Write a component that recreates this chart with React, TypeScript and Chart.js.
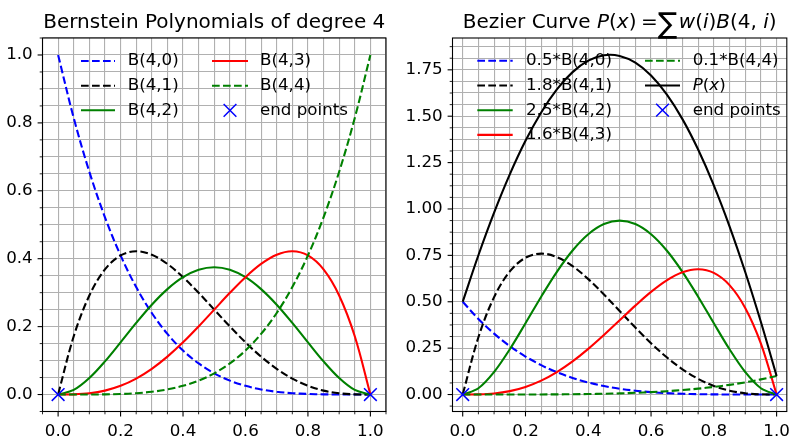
import React, { useEffect, useRef } from 'react';
import { Chart, registerables } from 'chart.js';
Chart.register(...registerables);

// ---------- data ----------
const xs = [0, 0.05, 0.1, 0.15, 0.2, 0.25, 0.3, 0.35, 0.4, 0.45, 0.5, 0.55, 0.6, 0.65, 0.7, 0.75, 0.8, 0.85, 0.9, 0.95, 1.0];

const b40 = [1, 0.8145, 0.6561, 0.522, 0.4096, 0.3164, 0.2401, 0.1785, 0.1296, 0.0915, 0.0625, 0.041, 0.0256, 0.015, 0.0081, 0.0039, 0.0016, 0.0005, 0.0001, 0, 0];
const b41 = [0, 0.1715, 0.2916, 0.3685, 0.4096, 0.4219, 0.4116, 0.3845, 0.3456, 0.2995, 0.25, 0.2005, 0.1536, 0.1115, 0.0756, 0.0469, 0.0256, 0.0115, 0.0036, 0.0005, 0];
const b42 = [0, 0.0135, 0.0486, 0.0975, 0.1536, 0.2109, 0.2646, 0.3105, 0.3456, 0.3675, 0.375, 0.3675, 0.3456, 0.3105, 0.2646, 0.2109, 0.1536, 0.0975, 0.0486, 0.0135, 0];
const b43 = [0, 0.0005, 0.0036, 0.0115, 0.0256, 0.0469, 0.0756, 0.1115, 0.1536, 0.2005, 0.25, 0.2995, 0.3456, 0.3845, 0.4116, 0.4219, 0.4096, 0.3685, 0.2916, 0.1715, 0];
const b44 = [0, 0, 0.0001, 0.0005, 0.0016, 0.0039, 0.0081, 0.015, 0.0256, 0.041, 0.0625, 0.0915, 0.1296, 0.1785, 0.2401, 0.3164, 0.4096, 0.522, 0.6561, 0.8145, 1];

const w0b = [0.5, 0.4073, 0.3281, 0.261, 0.2048, 0.1582, 0.1201, 0.0893, 0.0648, 0.0458, 0.0313, 0.0205, 0.0128, 0.0075, 0.0041, 0.002, 0.0008, 0.0003, 0.0001, 0, 0];
const w1b = [0, 0.3087, 0.5249, 0.6633, 0.7373, 0.7594, 0.7409, 0.6921, 0.6221, 0.5391, 0.45, 0.3609, 0.2765, 0.2007, 0.1361, 0.0844, 0.0461, 0.0207, 0.0065, 0.0009, 0];
const w2b = [0, 0.0338, 0.1215, 0.2438, 0.384, 0.5273, 0.6615, 0.7763, 0.864, 0.9188, 0.9375, 0.9188, 0.864, 0.7763, 0.6615, 0.5273, 0.384, 0.2438, 0.1215, 0.0338, 0];
const w3b = [0, 0.0008, 0.0058, 0.0184, 0.041, 0.075, 0.121, 0.1784, 0.2458, 0.3208, 0.4, 0.4792, 0.553, 0.6152, 0.6586, 0.675, 0.6554, 0.5896, 0.4666, 0.2744, 0];
const w4b = [0, 0, 0, 0.0001, 0.0002, 0.0004, 0.0008, 0.0015, 0.0026, 0.0041, 0.0063, 0.0092, 0.013, 0.0179, 0.024, 0.0316, 0.041, 0.0522, 0.0656, 0.0815, 0.1];
const pX = [0.5, 0.7506, 0.9803, 1.1866, 1.3673, 1.5203, 1.6443, 1.7376, 1.7993, 1.8286, 1.825, 1.7886, 1.7193, 1.6176, 1.4843, 1.3203, 1.1273, 0.9066, 0.6603, 0.3906, 0.1];

const endX = [0, 1];
const endY = [0, 0];

const xTickLabels = ['0.0', '0.2', '0.4', '0.6', '0.8', '1.0'];
const leftYTickLabels = ['0.0', '0.2', '0.4', '0.6', '0.8', '1.0'];
const rightYTickLabels = ['0.00', '0.25', '0.50', '0.75', '1.00', '1.25', '1.50', '1.75'];

const leftLabels = ['B(4,0)', 'B(4,1)', 'B(4,2)', 'B(4,3)', 'B(4,4)', 'end points'];
const rightLabels = ['0.5*B(4,0)', '1.8*B(4,1)', '2.5*B(4,2)', '1.6*B(4,3)', '0.1*B(4,4)', 'P(x)', 'end points'];

const leftTitle = 'Bernstein Polynomials of degree 4';

// ---------- styling ----------
const FONT = '"DejaVu Sans"';
const TICK_SIZE = 16.7;
const LW = 2.1;
const DASH = [7.7, 3.3];
const BLUE = '#0000ff', BLACK = '#000000', GREEN = '#008000', RED = '#ff0000';

type Seg = { t: string; it?: boolean; big?: boolean; gap?: number };

function parseLabel(s: string): Seg[] {
  if (s === 'P(x)') return [{ t: 'P', it: true }, { t: '(' }, { t: 'x', it: true }, { t: ')' }];
  return [{ t: s }];
}

const rightTitle: Seg[] = [
  { t: 'Bezier Curve ' }, { t: 'P', it: true }, { t: '(' }, { t: 'x', it: true }, { t: ')', gap: 4.5 },
  { t: '=' }, { t: '\u2211', big: true, gap: 1.5 }, { t: 'w', it: true }, { t: '(' }, { t: 'i', it: true }, { t: ')' },
  { t: 'B', it: true }, { t: '(4, ' }, { t: 'i', it: true }, { t: ')' },
];

function drawRich(ctx: CanvasRenderingContext2D, segs: Seg[], x: number, y: number, size: number, align: 'left' | 'center') {
  const fontOf = (s: Seg) => (s.big ? `${size * 1.45}px ${FONT}` : `${s.it ? 'oblique ' : ''}${size}px ${FONT}`);
  let total = 0;
  const widths = segs.map((s) => {
    ctx.font = fontOf(s);
    const w = ctx.measureText(s.t).width + (s.gap || 0);
    total += w;
    return w;
  });
  let cx = align === 'center' ? x - total / 2 : x;
  segs.forEach((s, i) => {
    ctx.font = fontOf(s);
    ctx.fillText(s.t, cx, s.big ? y + size * 0.27 : y);
    cx += widths[i];
  });
}

function makeTicks(min: number, max: number, step: number) {
  const out: { value: number }[] = [];
  const k0 = Math.ceil(min / step - 1e-9);
  const k1 = Math.floor(max / step + 1e-9);
  for (let k = k0; k <= k1; k++) out.push({ value: +(k * step).toFixed(6) });
  return out;
}

function majorLabel(value: number, step: number, labels: string[]) {
  const idx = Math.round(value / step);
  if (Math.abs(value - idx * step) < 1e-6 && idx >= 0 && idx < labels.length) return labels[idx];
  return '';
}

type LegendItem = { segs: Seg[]; ds: number; col: number; row: number };
type Spec = {
  datasets: any[];
  xMin: number; xMax: number;
  yMin: number; yMax: number; yMinor: number; yMajor: number; yLabels: string[];
  yAxisWidth: number; padRight: number;
  legend: LegendItem[];
  cols: { lx0: number; lx1: number; tx: number }[];
  rows: number[];
  title: Seg[];
};

function lineDs(arr: number[], color: string, dashed: boolean, order: number) {
  return {
    data: xs.map((x, i) => ({ x, y: arr[i] })),
    borderColor: color,
    borderWidth: LW,
    borderDash: dashed ? DASH : [],
    pointRadius: 0,
    pointHoverRadius: 0,
    fill: false,
    tension: 0.35,
    order,
  };
}

function endDs(order: number) {
  return {
    data: endX.map((x, i) => ({ x, y: endY[i] })),
    showLine: false,
    pointStyle: 'crossRot',
    pointRadius: 9,
    pointHoverRadius: 9,
    pointBorderColor: BLUE,
    pointBackgroundColor: BLUE,
    pointBorderWidth: 1.5,
    borderColor: BLUE,
    order,
  };
}

function makeDecor(spec: Spec) {
  return {
    id: 'decor',
    afterDraw(chart: any) {
      const { ctx, chartArea: ca, scales } = chart;
      ctx.save();
      ctx.fillStyle = '#000';
      ctx.strokeStyle = '#000';
      const xs_ = scales.x, ys_ = scales.y;
      xs_.ticks.forEach((t: any) => {
        const p = xs_.getPixelForValue(t.value);
        if (p < ca.left - 0.5 || p > ca.right + 0.5) return;
        const major = majorLabel(t.value, 0.2, xTickLabels) !== '';
        ctx.lineWidth = major ? 1.1 : 0.85;
        ctx.beginPath();
        ctx.moveTo(p, ca.bottom);
        ctx.lineTo(p, ca.bottom + (major ? 4.9 : 2.8));
        ctx.stroke();
      });
      ys_.ticks.forEach((t: any) => {
        const p = ys_.getPixelForValue(t.value);
        if (p < ca.top - 0.5 || p > ca.bottom + 0.5) return;
        const major = majorLabel(t.value, spec.yMajor, spec.yLabels) !== '';
        ctx.lineWidth = major ? 1.1 : 0.85;
        ctx.beginPath();
        ctx.moveTo(ca.left, p);
        ctx.lineTo(ca.left - (major ? 4.9 : 2.8), p);
        ctx.stroke();
      });
      ctx.lineWidth = 1.1;
      ctx.strokeRect(ca.left, ca.top, ca.right - ca.left, ca.bottom - ca.top);
      ctx.textBaseline = 'alphabetic';
      drawRich(ctx, spec.title, (ca.left + ca.right) / 2, 27.5, 20, 'center');
      spec.legend.forEach((it) => {
        const ds = spec.datasets[it.ds];
        const col = spec.cols[it.col];
        const y = spec.rows[it.row];
        if (ds.showLine === false) {
          const cx = (col.lx0 + col.lx1) / 2;
          const r = 9 * Math.SQRT1_2;
          ctx.strokeStyle = BLUE;
          ctx.lineWidth = 1.5;
          ctx.setLineDash([]);
          ctx.beginPath();
          ctx.moveTo(cx - r, y - r); ctx.lineTo(cx + r, y + r);
          ctx.moveTo(cx - r, y + r); ctx.lineTo(cx + r, y - r);
          ctx.stroke();
        } else {
          ctx.strokeStyle = ds.borderColor;
          ctx.lineWidth = LW;
          ctx.setLineDash(ds.borderDash);
          ctx.beginPath();
          ctx.moveTo(col.lx0, y); ctx.lineTo(col.lx1, y);
          ctx.stroke();
          ctx.setLineDash([]);
        }
        ctx.fillStyle = '#000';
        ctx.textBaseline = 'middle';
        drawRich(ctx, it.segs, col.tx, y, TICK_SIZE, 'left');
      });
      ctx.restore();
    },
  };
}

function makeConfig(spec: Spec): any {
  return {
    type: 'line',
    data: { datasets: spec.datasets },
    plugins: [makeDecor(spec)],
    options: {
      responsive: false,
      maintainAspectRatio: false,
      animation: false,
      events: [],
      layout: { padding: { left: 0, right: spec.padRight, top: 38, bottom: 0 } },
      plugins: { legend: { display: false }, tooltip: { enabled: false }, title: { display: false } },
      scales: {
        x: {
          type: 'linear',
          min: spec.xMin,
          max: spec.xMax,
          afterBuildTicks: (axis: any) => { axis.ticks = makeTicks(spec.xMin, spec.xMax, 0.05); },
          afterFit: (axis: any) => { axis.height = 29.5; },
          grid: { color: '#b0b0b0', lineWidth: 1.1, drawTicks: false },
          border: { display: false },
          ticks: {
            autoSkip: false,
            maxRotation: 0,
            minRotation: 0,
            padding: 9.8,
            color: '#000',
            font: { family: 'DejaVu Sans', size: TICK_SIZE },
            callback: (v: number) => majorLabel(v, 0.2, xTickLabels),
          },
        },
        y: {
          type: 'linear',
          min: spec.yMin,
          max: spec.yMax,
          afterBuildTicks: (axis: any) => { axis.ticks = makeTicks(spec.yMin, spec.yMax, spec.yMinor); },
          afterFit: (axis: any) => { axis.width = spec.yAxisWidth; },
          grid: { color: '#b0b0b0', lineWidth: 1.1, drawTicks: false },
          border: { display: false },
          ticks: {
            autoSkip: false,
            padding: 9.8,
            color: '#000',
            font: { family: 'DejaVu Sans', size: TICK_SIZE },
            callback: (v: number) => majorLabel(v, spec.yMajor, spec.yLabels),
          },
        },
      },
    },
  };
}

const leftDatasets = [
  lineDs(b40, BLUE, true, 10),
  lineDs(b41, BLACK, true, 9),
  lineDs(b42, GREEN, false, 8),
  lineDs(b43, RED, false, 7),
  lineDs(b44, GREEN, true, 6),
  endDs(5),
];

const rightDatasets = [
  lineDs(w0b, BLUE, true, 10),
  lineDs(w1b, BLACK, true, 9),
  lineDs(w2b, GREEN, false, 8),
  lineDs(w3b, RED, false, 7),
  lineDs(w4b, GREEN, true, 6),
  lineDs(pX, BLACK, false, 5),
  endDs(4),
];

const leftSpec: Spec = {
  datasets: leftDatasets,
  xMin: -0.05, xMax: 1.05,
  yMin: -0.05, yMax: 1.05, yMinor: 0.05, yMajor: 0.2, yLabels: leftYTickLabels,
  yAxisWidth: 42.5, padRight: 14,
  legend: leftLabels.map((l, i) => ({ segs: parseLabel(l), ds: i, col: i < 3 ? 0 : 1, row: i % 3 })),
  cols: [{ lx0: 81, lx1: 115, tx: 127.7 }, { lx0: 212, lx1: 248, tx: 260 }],
  rows: [61, 85.7, 110.3],
  title: [{ t: leftTitle }],
};

const rightSpec: Spec = {
  datasets: rightDatasets,
  xMin: -0.0325, xMax: 1.0325,
  yMin: -0.0915, yMax: 1.9215, yMinor: 0.0625, yMajor: 0.25, yLabels: rightYTickLabels,
  yAxisWidth: 52.5, padRight: 2.5,
  legend: rightLabels.map((l, i) => ({ segs: parseLabel(l), ds: i, col: i < 4 ? 0 : 1, row: i < 4 ? i : i - 4 })),
  cols: [{ lx0: 77.3, lx1: 112.7, tx: 126 }, { lx0: 245, lx1: 280, tx: 292.7 }],
  rows: [60.8, 85.5, 110.2, 134.9],
  title: rightTitle,
};

function ChartCanvas({ spec, left }: { spec: Spec; left: number }) {
  const ref = useRef<HTMLCanvasElement | null>(null);
  useEffect(() => {
    if (!ref.current) return;
    const chart = new Chart(ref.current, makeConfig(spec));
    return () => chart.destroy();
  }, [spec]);
  return (
    <canvas
      ref={ref}
      width={400}
      height={441}
      style={{ position: 'absolute', left, top: 0, width: 400, height: 441 }}
    />
  );
}

export default function App() {
  return (
    <div style={{ position: 'absolute', left: 0, top: 0, width: 800, height: 441, background: '#fff', overflow: 'hidden' }}>
      <ChartCanvas spec={leftSpec} left={0} />
      <ChartCanvas spec={rightSpec} left={400} />
    </div>
  );
}
